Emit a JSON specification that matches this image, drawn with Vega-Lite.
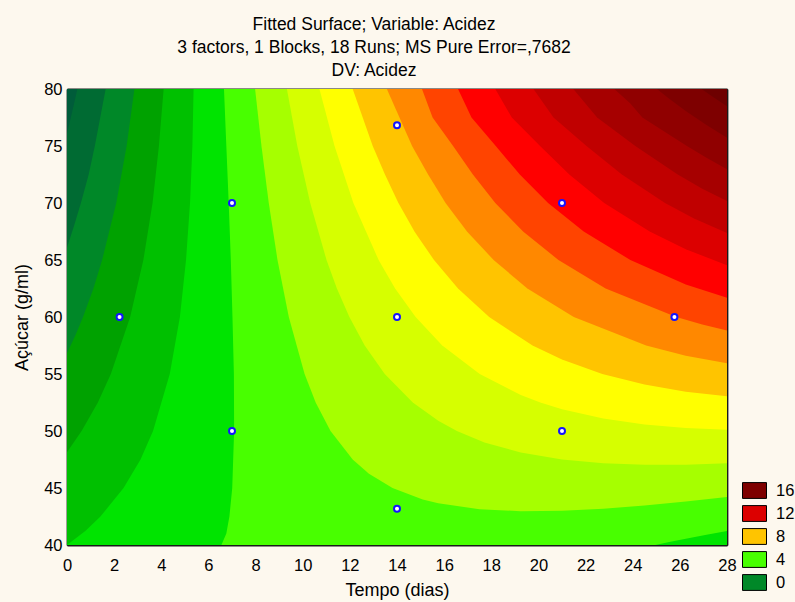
{
"$schema": "https://vega.github.io/schema/vega-lite/v6.json",
"width": 660,
"height": 456,
"autosize": {"type": "none"},
"padding": {"left": 67, "top": 89, "right": 68, "bottom": 57},
"background": "#fdf8ee",
"title": {
"text": ["Fitted Surface; Variable: Acidez", "3 factors, 1 Blocks, 18 Runs; MS Pure Error=,7682", "DV: Acidez"],
"fontSize": 17.5, "fontWeight": "normal", "font": "Liberation Sans", "color": "#000000",
"anchor": "middle", "frame": "group", "dx": -23, "offset": 2, "lineHeight": 23
},
"config": {
"font": "Liberation Sans",
"view": {"stroke": null},
"axis": {"grid": false, "zindex": 1, "domainColor": "#1a1a1a", "domainWidth": 1.8, "tickColor": "#1a1a1a", "tickWidth": 1, "labelColor": "#000000", "titleColor": "#000000", "labelFontSize": 16.5, "titleFontSize": 18, "titleFontWeight": "normal", "labelFlush": false, "labelOverlap": false}
},
"layer": [
{
"data": {"values": [
{"band":"k00","ord":1,"tempo":0,"acucar":40},{"band":"k00","ord":2,"tempo":28,"acucar":40},{"band":"k00","ord":3,"tempo":28,"acucar":80},{"band":"k00","ord":4,"tempo":0,"acucar":80},
{"band":"k01","ord":1,"tempo":0.44,"acucar":80},{"band":"k01","ord":2,"tempo":0.22,"acucar":78},{"band":"k01","ord":3,"tempo":0,"acucar":76.09},{"band":"k01","ord":4,"tempo":0,"acucar":40},{"band":"k01","ord":5,"tempo":28,"acucar":40},{"band":"k01","ord":6,"tempo":28,"acucar":80},
{"band":"k02","ord":1,"tempo":1.64,"acucar":80},{"band":"k02","ord":2,"tempo":1.18,"acucar":75},{"band":"k02","ord":3,"tempo":0.92,"acucar":72.5},{"band":"k02","ord":4,"tempo":0.59,"acucar":70},{"band":"k02","ord":5,"tempo":0.30,"acucar":68},{"band":"k02","ord":6,"tempo":0,"acucar":66.1},{"band":"k02","ord":7,"tempo":0,"acucar":40},{"band":"k02","ord":8,"tempo":28,"acucar":40},{"band":"k02","ord":9,"tempo":28,"acucar":80},
{"band":"k03","ord":1,"tempo":2.86,"acucar":80},{"band":"k03","ord":2,"tempo":2.53,"acucar":75},{"band":"k03","ord":3,"tempo":2.09,"acucar":70},{"band":"k03","ord":4,"tempo":1.49,"acucar":65},{"band":"k03","ord":5,"tempo":1.12,"acucar":62.5},{"band":"k03","ord":6,"tempo":0.68,"acucar":60},{"band":"k03","ord":7,"tempo":0.38,"acucar":58.5},{"band":"k03","ord":8,"tempo":0,"acucar":56.83},{"band":"k03","ord":9,"tempo":0,"acucar":40},{"band":"k03","ord":10,"tempo":28,"acucar":40},{"band":"k03","ord":11,"tempo":28,"acucar":80},
{"band":"k04","ord":1,"tempo":4.10,"acucar":80},{"band":"k04","ord":2,"tempo":3.90,"acucar":75},{"band":"k04","ord":3,"tempo":3.63,"acucar":70},{"band":"k04","ord":4,"tempo":3.24,"acucar":65},{"band":"k04","ord":5,"tempo":2.68,"acucar":60},{"band":"k04","ord":6,"tempo":1.86,"acucar":55},{"band":"k04","ord":7,"tempo":1.31,"acucar":52.5},{"band":"k04","ord":8,"tempo":0.62,"acucar":50},{"band":"k04","ord":9,"tempo":0,"acucar":48.14},{"band":"k04","ord":10,"tempo":0,"acucar":40},{"band":"k04","ord":11,"tempo":28,"acucar":40},{"band":"k04","ord":12,"tempo":28,"acucar":80},
{"band":"k05","ord":1,"tempo":5.37,"acucar":80},{"band":"k05","ord":2,"tempo":5.32,"acucar":75},{"band":"k05","ord":3,"tempo":5.22,"acucar":70},{"band":"k05","ord":4,"tempo":5.05,"acucar":65},{"band":"k05","ord":5,"tempo":4.79,"acucar":60},{"band":"k05","ord":6,"tempo":4.36,"acucar":55},{"band":"k05","ord":7,"tempo":3.65,"acucar":50},{"band":"k05","ord":8,"tempo":3.12,"acucar":47.5},{"band":"k05","ord":9,"tempo":2.40,"acucar":45},{"band":"k05","ord":10,"tempo":1.42,"acucar":42.5},{"band":"k05","ord":11,"tempo":0.79,"acucar":41.25},{"band":"k05","ord":12,"tempo":0,"acucar":40},{"band":"k05","ord":13,"tempo":28,"acucar":40},{"band":"k05","ord":14,"tempo":28,"acucar":80},
{"band":"k06","ord":1,"tempo":6.66,"acucar":80},{"band":"k06","ord":2,"tempo":6.76,"acucar":75},{"band":"k06","ord":3,"tempo":6.86,"acucar":70},{"band":"k06","ord":4,"tempo":6.95,"acucar":65},{"band":"k06","ord":5,"tempo":7.02,"acucar":60},{"band":"k06","ord":6,"tempo":7.08,"acucar":55},{"band":"k06","ord":7,"tempo":7.09,"acucar":50},{"band":"k06","ord":8,"tempo":7.01,"acucar":45},{"band":"k06","ord":9,"tempo":6.89,"acucar":42.5},{"band":"k06","ord":10,"tempo":6.76,"acucar":41},{"band":"k06","ord":11,"tempo":6.55,"acucar":40},{"band":"k06","ord":12,"tempo":24.96,"acucar":40},{"band":"k06","ord":13,"tempo":25.55,"acucar":40.27},{"band":"k06","ord":14,"tempo":26.25,"acucar":40.55},{"band":"k06","ord":15,"tempo":27.13,"acucar":40.89},{"band":"k06","ord":16,"tempo":28,"acucar":41.23},{"band":"k06","ord":17,"tempo":28,"acucar":80},
{"band":"k07","ord":1,"tempo":7.98,"acucar":80},{"band":"k07","ord":2,"tempo":8.25,"acucar":75},{"band":"k07","ord":3,"tempo":8.56,"acucar":70},{"band":"k07","ord":4,"tempo":8.93,"acucar":65},{"band":"k07","ord":5,"tempo":9.41,"acucar":60},{"band":"k07","ord":6,"tempo":10.08,"acucar":55},{"band":"k07","ord":7,"tempo":10.55,"acucar":52.5},{"band":"k07","ord":8,"tempo":11.18,"acucar":50},{"band":"k07","ord":9,"tempo":12.12,"acucar":47.5},{"band":"k07","ord":10,"tempo":12.81,"acucar":46.25},{"band":"k07","ord":11,"tempo":13.81,"acucar":45},{"band":"k07","ord":12,"tempo":15.09,"acucar":44},{"band":"k07","ord":13,"tempo":15.75,"acucar":43.67},{"band":"k07","ord":14,"tempo":17.5,"acucar":43.14},{"band":"k07","ord":15,"tempo":19.25,"acucar":42.97},{"band":"k07","ord":16,"tempo":21,"acucar":43.0},{"band":"k07","ord":17,"tempo":22.75,"acucar":43.19},{"band":"k07","ord":18,"tempo":24.5,"acucar":43.46},{"band":"k07","ord":19,"tempo":26.25,"acucar":43.81},{"band":"k07","ord":20,"tempo":28,"acucar":44.21},{"band":"k07","ord":21,"tempo":28,"acucar":80},
{"band":"k08","ord":1,"tempo":9.33,"acucar":80},{"band":"k08","ord":2,"tempo":9.77,"acucar":75},{"band":"k08","ord":3,"tempo":10.32,"acucar":70},{"band":"k08","ord":4,"tempo":11.01,"acucar":65},{"band":"k08","ord":5,"tempo":11.45,"acucar":62.5},{"band":"k08","ord":6,"tempo":11.98,"acucar":60},{"band":"k08","ord":7,"tempo":12.63,"acucar":57.5},{"band":"k08","ord":8,"tempo":13.48,"acucar":55},{"band":"k08","ord":9,"tempo":14.67,"acucar":52.5},{"band":"k08","ord":10,"tempo":15.75,"acucar":50.89},{"band":"k08","ord":11,"tempo":16.54,"acucar":50},{"band":"k08","ord":12,"tempo":17.71,"acucar":49},{"band":"k08","ord":13,"tempo":19.25,"acucar":48.11},{"band":"k08","ord":14,"tempo":21,"acucar":47.49},{"band":"k08","ord":15,"tempo":22.75,"acucar":47.17},{"band":"k08","ord":16,"tempo":24.5,"acucar":47.04},{"band":"k08","ord":17,"tempo":26.25,"acucar":47.05},{"band":"k08","ord":18,"tempo":28,"acucar":47.18},{"band":"k08","ord":19,"tempo":28,"acucar":80},
{"band":"k09","ord":1,"tempo":10.71,"acucar":80},{"band":"k09","ord":2,"tempo":11.35,"acucar":75},{"band":"k09","ord":3,"tempo":12.15,"acucar":70},{"band":"k09","ord":4,"tempo":13.22,"acucar":65},{"band":"k09","ord":5,"tempo":13.92,"acucar":62.5},{"band":"k09","ord":6,"tempo":14.79,"acucar":60},{"band":"k09","ord":7,"tempo":15.92,"acucar":57.5},{"band":"k09","ord":8,"tempo":17.51,"acucar":55},{"band":"k09","ord":9,"tempo":19.25,"acucar":53.15},{"band":"k09","ord":10,"tempo":20.08,"acucar":52.5},{"band":"k09","ord":11,"tempo":21,"acucar":51.91},{"band":"k09","ord":12,"tempo":22.75,"acucar":51.10},{"band":"k09","ord":13,"tempo":24.5,"acucar":50.57},{"band":"k09","ord":14,"tempo":26.25,"acucar":50.26},{"band":"k09","ord":15,"tempo":28,"acucar":50.12},{"band":"k09","ord":16,"tempo":28,"acucar":80},
{"band":"k10","ord":1,"tempo":12.12,"acucar":80},{"band":"k10","ord":2,"tempo":12.97,"acucar":75},{"band":"k10","ord":3,"tempo":13.49,"acucar":72.5},{"band":"k10","ord":4,"tempo":14.06,"acucar":70},{"band":"k10","ord":5,"tempo":14.74,"acucar":67.5},{"band":"k10","ord":6,"tempo":15.57,"acucar":65},{"band":"k10","ord":7,"tempo":16.59,"acucar":62.5},{"band":"k10","ord":8,"tempo":17.91,"acucar":60},{"band":"k10","ord":9,"tempo":19.75,"acucar":57.5},{"band":"k10","ord":10,"tempo":21,"acucar":56.27},{"band":"k10","ord":11,"tempo":22.71,"acucar":55},{"band":"k10","ord":12,"tempo":24.5,"acucar":54.07},{"band":"k10","ord":13,"tempo":26.25,"acucar":53.45},{"band":"k10","ord":14,"tempo":28,"acucar":53.04},{"band":"k10","ord":15,"tempo":28,"acucar":80},
{"band":"k11","ord":1,"tempo":13.57,"acucar":80},{"band":"k11","ord":2,"tempo":14.64,"acucar":75},{"band":"k11","ord":3,"tempo":15.32,"acucar":72.5},{"band":"k11","ord":4,"tempo":16.06,"acucar":70},{"band":"k11","ord":5,"tempo":16.97,"acucar":67.5},{"band":"k11","ord":6,"tempo":18.10,"acucar":65},{"band":"k11","ord":7,"tempo":19.53,"acucar":62.5},{"band":"k11","ord":8,"tempo":21.50,"acucar":60},{"band":"k11","ord":9,"tempo":24.57,"acucar":57.5},{"band":"k11","ord":10,"tempo":26.25,"acucar":56.61},{"band":"k11","ord":11,"tempo":28,"acucar":55.94},{"band":"k11","ord":12,"tempo":28,"acucar":80},
{"band":"k12","ord":1,"tempo":15.06,"acucar":80},{"band":"k12","ord":2,"tempo":15.51,"acucar":77.5},{"band":"k12","ord":3,"tempo":16.38,"acucar":75},{"band":"k12","ord":4,"tempo":17.22,"acucar":72.5},{"band":"k12","ord":5,"tempo":18.17,"acucar":70},{"band":"k12","ord":6,"tempo":19.35,"acucar":67.5},{"band":"k12","ord":7,"tempo":20.85,"acucar":65},{"band":"k12","ord":8,"tempo":22.85,"acucar":62.5},{"band":"k12","ord":9,"tempo":25.85,"acucar":60},{"band":"k12","ord":10,"tempo":26.95,"acucar":59.35},{"band":"k12","ord":11,"tempo":28,"acucar":58.82},{"band":"k12","ord":12,"tempo":28,"acucar":80},
{"band":"k13","ord":1,"tempo":16.59,"acucar":80},{"band":"k13","ord":2,"tempo":17.16,"acucar":77.5},{"band":"k13","ord":3,"tempo":18.19,"acucar":75},{"band":"k13","ord":4,"tempo":19.21,"acucar":72.5},{"band":"k13","ord":5,"tempo":20.41,"acucar":70},{"band":"k13","ord":6,"tempo":21.92,"acucar":67.5},{"band":"k13","ord":7,"tempo":23.90,"acucar":65},{"band":"k13","ord":8,"tempo":26.25,"acucar":62.86},{"band":"k13","ord":9,"tempo":28,"acucar":61.69},{"band":"k13","ord":10,"tempo":28,"acucar":80},
{"band":"k14","ord":1,"tempo":18.17,"acucar":80},{"band":"k14","ord":2,"tempo":18.87,"acucar":77.5},{"band":"k14","ord":3,"tempo":20.07,"acucar":75},{"band":"k14","ord":4,"tempo":21.31,"acucar":72.5},{"band":"k14","ord":5,"tempo":22.79,"acucar":70},{"band":"k14","ord":6,"tempo":24.72,"acucar":67.5},{"band":"k14","ord":7,"tempo":26.25,"acucar":65.95},{"band":"k14","ord":8,"tempo":28,"acucar":64.53},{"band":"k14","ord":9,"tempo":28,"acucar":80},
{"band":"k15","ord":1,"tempo":19.79,"acucar":80},{"band":"k15","ord":2,"tempo":20.64,"acucar":77.5},{"band":"k15","ord":3,"tempo":22.04,"acucar":75},{"band":"k15","ord":4,"tempo":23.54,"acucar":72.5},{"band":"k15","ord":5,"tempo":25.37,"acucar":70},{"band":"k15","ord":6,"tempo":26.6,"acucar":68.65},{"band":"k15","ord":7,"tempo":28,"acucar":67.36},{"band":"k15","ord":8,"tempo":28,"acucar":80},
{"band":"k16","ord":1,"tempo":21.48,"acucar":80},{"band":"k16","ord":2,"tempo":22.49,"acucar":77.5},{"band":"k16","ord":3,"tempo":24.11,"acucar":75},{"band":"k16","ord":4,"tempo":25.91,"acucar":72.5},{"band":"k16","ord":5,"tempo":26.95,"acucar":71.25},{"band":"k16","ord":6,"tempo":28,"acucar":70.17},{"band":"k16","ord":7,"tempo":28,"acucar":80},
{"band":"k17","ord":1,"tempo":23.22,"acucar":80},{"band":"k17","ord":2,"tempo":23.89,"acucar":78.75},{"band":"k17","ord":3,"tempo":24.41,"acucar":77.5},{"band":"k17","ord":4,"tempo":26.30,"acucar":75},{"band":"k17","ord":5,"tempo":27.13,"acucar":73.96},{"band":"k17","ord":6,"tempo":28,"acucar":72.96},{"band":"k17","ord":7,"tempo":28,"acucar":80},
{"band":"k18","ord":1,"tempo":25.03,"acucar":80},{"band":"k18","ord":2,"tempo":25.55,"acucar":79.14},{"band":"k18","ord":3,"tempo":26.25,"acucar":78.07},{"band":"k18","ord":4,"tempo":27.13,"acucar":76.84},{"band":"k18","ord":5,"tempo":28,"acucar":75.73},{"band":"k18","ord":6,"tempo":28,"acucar":80},
{"band":"k19","ord":1,"tempo":26.92,"acucar":80},{"band":"k19","ord":2,"tempo":27.44,"acucar":79.25},{"band":"k19","ord":3,"tempo":28,"acucar":78.49},{"band":"k19","ord":4,"tempo":28,"acucar":80}
]},
"mark": {"type": "line", "filled": true, "clip": true, "strokeWidth": 0, "interpolate": "linear"},
"encoding": {
"x": {"field": "tempo", "type": "quantitative", "scale": {"domain": [0, 28], "nice": false, "zero": false},
"axis": {"orient": "bottom", "values": [0,2,4,6,8,10,12,14,16,18,20,22,24,26,28], "title": "Tempo (dias)", "tickSize": -5, "labelPadding": 17, "titleY": 45, "titleBaseline": "middle"}},
"y": {"field": "acucar", "type": "quantitative", "scale": {"domain": [40, 80], "nice": false, "zero": false},
"axis": {"orient": "left", "values": [40,45,50,55,60,65,70,75,80], "title": "Açúcar (g/ml)", "tickSize": -5, "labelPadding": 10, "titleX": -45, "titleBaseline": "middle"}},
"order": {"field": "ord", "type": "quantitative"},
"color": {"field": "band", "type": "nominal",
"scale": {"domain": ["k00","k01","k02","k03","k04","k05","k06","k07","k08","k09","k10","k11","k12","k13","k14","k15","k16","k17","k18","k19"],
"range": ["#005c3a","#006b33","#008828","#00a200","#00c000","#00e400","#48ff00","#a6ff00","#d6ff00","#ffff00","#ffc400","#ff8800","#ff4400","#ff0000","#dc0000","#c00000","#a60000","#900000","#7e0000","#6e0000"]},
"legend": {"orient": "none", "legendX": 675, "legendY": 389, "title": null, "padding": 0,
"values": ["k18","k14","k10","k06","k02"],
"symbolType": "M-1,-0.66L1,-0.66L1,0.66L-1,0.66Z", "symbolSize": 576, "symbolStrokeColor": "#000000", "symbolStrokeWidth": 1,
"labelFontSize": 16.5, "labelColor": "#000000", "labelOffset": 9, "rowPadding": 0,
"labelExpr": "toNumber(substring(datum.label, 1)) - 2",
"encode": {"symbols": {"update": {"fill": {"scale": "color", "field": "value"}, "fillOpacity": {"value": 1}, "stroke": {"value": "#000000"}, "strokeWidth": {"value": 1}}}}}}
}
},
{
"data": {"values": [
{"tempo":7,"acucar":50},{"tempo":7,"acucar":70},{"tempo":21,"acucar":50},{"tempo":21,"acucar":70},
{"tempo":2.23,"acucar":60},{"tempo":25.77,"acucar":60},{"tempo":14,"acucar":43.18},{"tempo":14,"acucar":76.82},{"tempo":14,"acucar":60}
]},
"mark": {"type": "point", "shape": "circle", "filled": true, "fill": "#ffffff", "stroke": "#1414ff", "strokeWidth": 2, "size": 36, "opacity": 1},
"encoding": {
"x": {"field": "tempo", "type": "quantitative", "scale": {"domain": [0, 28], "nice": false, "zero": false},
"axis": {"orient": "top", "values": [0,2,4,6,8,10,12,14,16,18,20,22,24,26,28], "labels": false, "title": null, "tickSize": -5}},
"y": {"field": "acucar", "type": "quantitative", "scale": {"domain": [40, 80], "nice": false, "zero": false},
"axis": {"orient": "right", "values": [40,45,50,55,60,65,70,75,80], "labels": false, "title": null, "tickSize": -5}}
}
}
],
"resolve": {"axis": {"x": "independent", "y": "independent"}}
}
